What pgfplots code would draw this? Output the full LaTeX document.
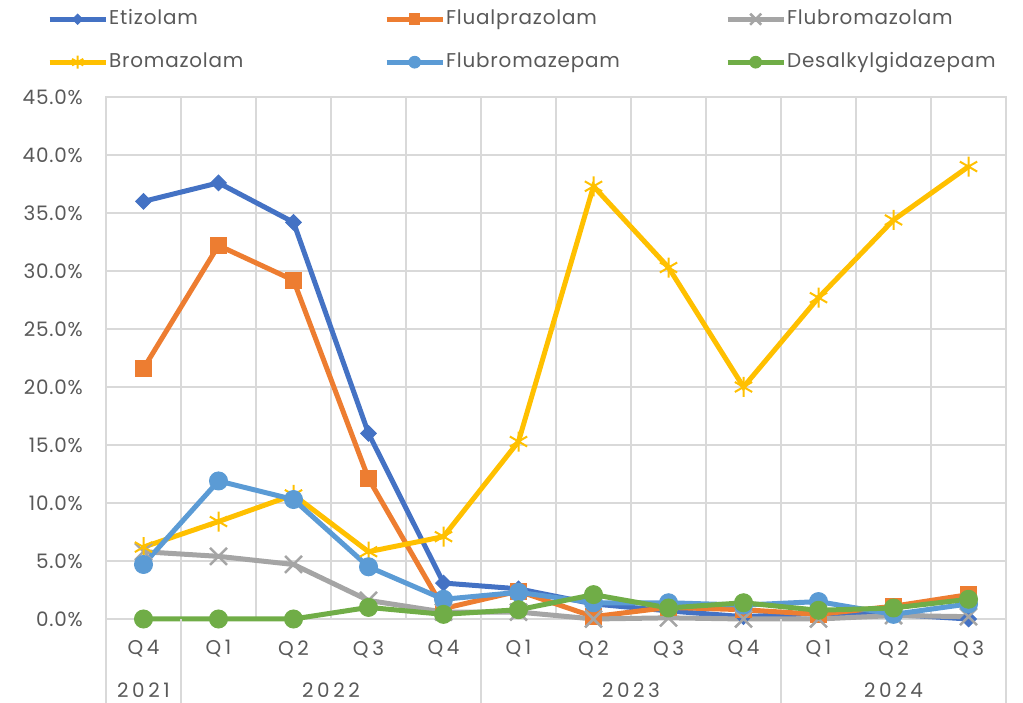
\documentclass[border=0pt]{standalone}
\usepackage{pgfplots}
\pgfplotsset{compat=1.18}
\usepackage{fontspec}
\setmainfont{Poppins}[LetterSpace=4]
\newfontfamily\spaced{Poppins}[LetterSpace=18]
\definecolor{cEti}{HTML}{4472C4}
\definecolor{cFlu}{HTML}{ED7D31}
\definecolor{cFbz}{HTML}{A5A5A5}
\definecolor{cBro}{HTML}{FFC000}
\definecolor{cFbp}{HTML}{5B9BD5}
\definecolor{cDes}{HTML}{70AD47}
\definecolor{txt}{HTML}{595959}
\definecolor{gridc}{HTML}{D9D9D9}

\begin{document}
\begin{tikzpicture}[x=1bp,y=1bp]
\path[use as bounding box] (0,0) rectangle (1023,703);
\begin{axis}[
  at={(106bp,84bp)}, anchor=south west,
  scale only axis, width=900bp, height=522bp,
  xmin=-0.5, xmax=11.5, ymin=0, ymax=45,
  xtick={0,...,11},
  xticklabels={Q4,Q1,Q2,Q3,Q4,Q1,Q2,Q3,Q4,Q1,Q2,Q3},
  minor xtick={-0.5,0.5,...,11.5},
  ytick={0,5,...,45},
  xminorgrids, ymajorgrids,
  grid style={draw=gridc, line width=1.3bp},
  minor grid style={draw=gridc, line width=1.3bp},
  axis line style={draw=gridc, line width=1.3bp},
  major tick length=0, minor tick length=0,
  tick style={draw=none},
  /pgf/number format/assume math mode=true,
  yticklabel={\pgfmathprintnumber[fixed,fixed zerofill,precision=1]{\tick}\%},
  yticklabel style={font=\fontsize{20}{24}\selectfont, text=txt, anchor=east, inner sep=0pt, xshift=-23bp},
  xticklabel style={font=\spaced\fontsize{20}{24}\selectfont, text=txt, anchor=center, yshift=-30bp},
  clip=false,
  legend columns=3,
  legend style={at={(axis description cs:-0.0656,1.1686)}, anchor=north west,
    draw=none, fill=none, inner sep=0pt, font=\fontsize{20}{24}\selectfont, text=txt,
    column sep=1bp, row sep=23bp,
    nodes={inner sep=0pt, text height=15bp, text depth=5bp}},
  legend cell align=left,
  legend image code/.code={
    \draw[#1, /tikz/every mark/.append style={scale=0.65}, mark repeat=2, mark phase=2]
      plot coordinates {(0bp,0bp) (28bp,0bp) (56bp,0bp)};},
]
\addplot[color=cEti, line width=5bp, mark=square*, mark size=5.5bp, mark options={solid, rotate=45, line width=1bp}]
  coordinates {(0,36.0)(1,37.6)(2,34.2)(3,16.0)(4,3.1)(5,2.6)(6,1.3)(7,0.7)(8,0.2)(9,0.5)(10,0.4)(11,0.0)};
\addlegendentry{\makebox[274bp][l]{Etizolam}}
\addplot[color=cFlu, line width=5bp, mark=square*, mark size=8bp, mark options={solid, line width=1bp}]
  coordinates {(0,21.6)(1,32.2)(2,29.2)(3,12.1)(4,0.9)(5,2.4)(6,0.2)(7,1.0)(8,0.8)(9,0.4)(10,1.1)(11,2.1)};
\addlegendentry{\makebox[278bp][l]{Flualprazolam}}
\addplot[color=cFbz, line width=5bp, mark=x, mark size=12bp, mark options={solid, line width=2.5bp}]
  coordinates {(0,5.8)(1,5.4)(2,4.7)(3,1.6)(4,0.6)(5,0.6)(6,0.0)(7,0.1)(8,0.0)(9,0.0)(10,0.3)(11,0.2)};
\addlegendentry{Flubromazolam}
\addplot[color=cBro, line width=5bp, mark=asterisk, mark size=10bp, mark options={solid, line width=2bp}]
  coordinates {(0,6.2)(1,8.4)(2,10.7)(3,5.8)(4,7.1)(5,15.3)(6,37.3)(7,30.3)(8,20.0)(9,27.7)(10,34.4)(11,39.0)};
\addlegendentry{\makebox[274bp][l]{Bromazolam}}
\addplot[color=cFbp, line width=5bp, mark=*, mark size=9bp, mark options={solid, line width=1bp}]
  coordinates {(0,4.7)(1,11.9)(2,10.3)(3,4.5)(4,1.7)(5,2.3)(6,1.4)(7,1.4)(8,1.2)(9,1.5)(10,0.4)(11,1.3)};
\addlegendentry{\makebox[278bp][l]{Flubromazepam}}
\addplot[color=cDes, line width=5bp, mark=*, mark size=9bp, mark options={solid, line width=1bp}]
  coordinates {(0,0.0)(1,0.0)(2,0.0)(3,1.0)(4,0.4)(5,0.8)(6,2.1)(7,0.95)(8,1.4)(9,0.75)(10,0.95)(11,1.7)};
\addlegendentry{Desalkylgidazepam}
% year level of the category axis
\foreach \xd in {-0.5,0.5,4.5,8.5,11.5}{
  \edef\tmp{\noexpand\draw[draw=gridc, line width=1.3bp] (axis cs:\xd,0) -- ([yshift=-84bp]axis cs:\xd,0);}\tmp}
\node[font=\spaced\fontsize{20}{24}\selectfont, text=txt] at ([yshift=-71bp]axis cs:0,0) {2021};
\node[font=\spaced\fontsize{20}{24}\selectfont, text=txt] at ([yshift=-71bp]axis cs:2.5,0) {2022};
\node[font=\spaced\fontsize{20}{24}\selectfont, text=txt] at ([yshift=-71bp]axis cs:6.5,0) {2023};
\node[font=\spaced\fontsize{20}{24}\selectfont, text=txt] at ([yshift=-71bp]axis cs:10,0) {2024};
\end{axis}
\end{tikzpicture}
\end{document}
